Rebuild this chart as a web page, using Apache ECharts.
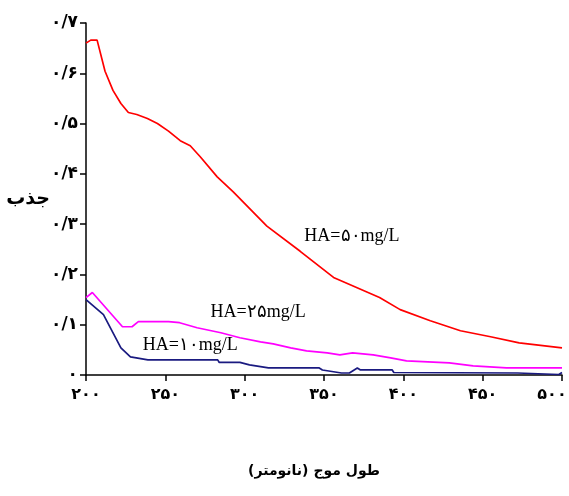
<!DOCTYPE html>
<html>
<head>
<meta charset="utf-8">
<script src="https://cdn.jsdelivr.net/npm/echarts@6/dist/echarts.min.js"></script>
<style>html,body{margin:0;padding:0;background:#fff}#c{width:569px;height:496px}</style>
</head>
<body>
<div id="c"></div>
<script>
// wavelength (nm), absorbance
const red50 = [[200,0.66],[203,0.666],[207,0.666],[212,0.604],[217,0.566],[222,0.54],[226.7,0.522],[232,0.518],[238.7,0.51],[245,0.5],[252,0.485],[259.4,0.466],[265.7,0.456],[272,0.434],[282.7,0.394],[292.8,0.364],[314,0.296],[335,0.246],[356,0.194],[385,0.154],[398,0.13],[417,0.108],[436,0.088],[455,0.076],[473,0.064],[500,0.054]];
const pink25 = [[200,0.154],[204,0.164],[223,0.096],[229,0.096],[233,0.106],[252,0.106],[259,0.104],[270,0.094],[285,0.084],[297,0.074],[310,0.066],[318,0.062],[329,0.054],[339,0.048],[352,0.044],[360,0.04],[368,0.044],[381,0.04],[392,0.034],[402,0.028],[429,0.024],[444,0.018],[465,0.014],[500,0.014]];
const blue10 = [[200,0.15],[211,0.12],[222,0.054],[228,0.036],[239,0.03],[283,0.03],[284,0.025],[297,0.025],[303,0.02],[315,0.014],[347,0.014],[349,0.01],[361,0.004],[366,0.004],[371,0.014],[373,0.01],[393,0.01],[394,0.005],[472,0.004],[473,0.001],[498,0.001],[500,0.005]];
const xTickLabels = ['۲۰۰','۲۵۰','۳۰۰','۳۵۰','۴۰۰','۴۵۰','۵۰۰'];
const yTickLabels = ['۰','۰/۱','۰/۲','۰/۳','۰/۴','۰/۵','۰/۶','۰/۷'];
const seriesLabels = ['HA=۵۰mg/L','HA=۲۵mg/L','HA=۱۰mg/L'];
const labelCoords = [[367.6,0.276],[308.5,0.124],[265.7,0.06]];
const xName = 'طول موج (نانومتر)';
const yName = 'جذب';

const chart = echarts.init(document.getElementById('c'));
function mk(name, data, color, idx){
  return {
    type:'line', name, data, showSymbol:false, symbol:'none',
    lineStyle:{color, width:1.7}, animation:false,
    markPoint:{symbol:'circle', symbolSize:0, silent:true, animation:false,
      label:{show:true, formatter:seriesLabels[idx], fontFamily:'Liberation Serif', fontSize:18, color:'#000', position:'inside'},
      data:[{coord:labelCoords[idx]}]}
  };
}
chart.setOption({
  animation:false,
  grid:{left:86, right:7, top:23, bottom:121, containLabel:false, outerBoundsMode:'none'},
  xAxis:{type:'value', min:200, max:500, interval:50,
    axisLine:{lineStyle:{color:'#000', width:1.5}},
    axisTick:{show:true, length:6, lineStyle:{color:'#000', width:1.5}},
    splitLine:{show:false},
    axisLabel:{margin:12, fontFamily:'DejaVu Sans', fontWeight:'bold', fontSize:16, color:'#000',
      formatter:(v)=>{const i=Math.round((v-200)/50); return i===xTickLabels.length-1 ? '{last|'+xTickLabels[i]+'}' : xTickLabels[i];},
      rich:{last:{fontFamily:'DejaVu Sans', fontWeight:'bold', fontSize:16, color:'#000', padding:[0,20,0,0]}}},
    name:xName, nameLocation:'middle', nameGap:89,
    nameTextStyle:{fontFamily:'DejaVu Sans', fontWeight:'bold', fontSize:14, color:'#000', padding:[0,20,0,0]}
  },
  yAxis:{type:'value', min:0, max:0.7, interval:0.1,
    axisLine:{show:true, lineStyle:{color:'#000', width:1.5}},
    axisTick:{show:true, length:6, lineStyle:{color:'#000', width:1.5}},
    splitLine:{show:false},
    axisLabel:{margin:8, fontFamily:'DejaVu Sans', fontWeight:'bold', fontSize:17, color:'#000',
      formatter:(v)=>yTickLabels[Math.round(v*10)]},
    name:yName, nameLocation:'middle', nameGap:36, nameRotate:0, nameMoveOverlap:false,
    nameTextStyle:{fontFamily:'DejaVu Sans', fontWeight:'bold', fontSize:19, color:'#000'}
  },
  series:[mk('50',red50,'#ff0000',0), mk('25',pink25,'#ff00ff',1), mk('10',blue10,'#1a1a80',2)]
});
</script>
</body>
</html>
